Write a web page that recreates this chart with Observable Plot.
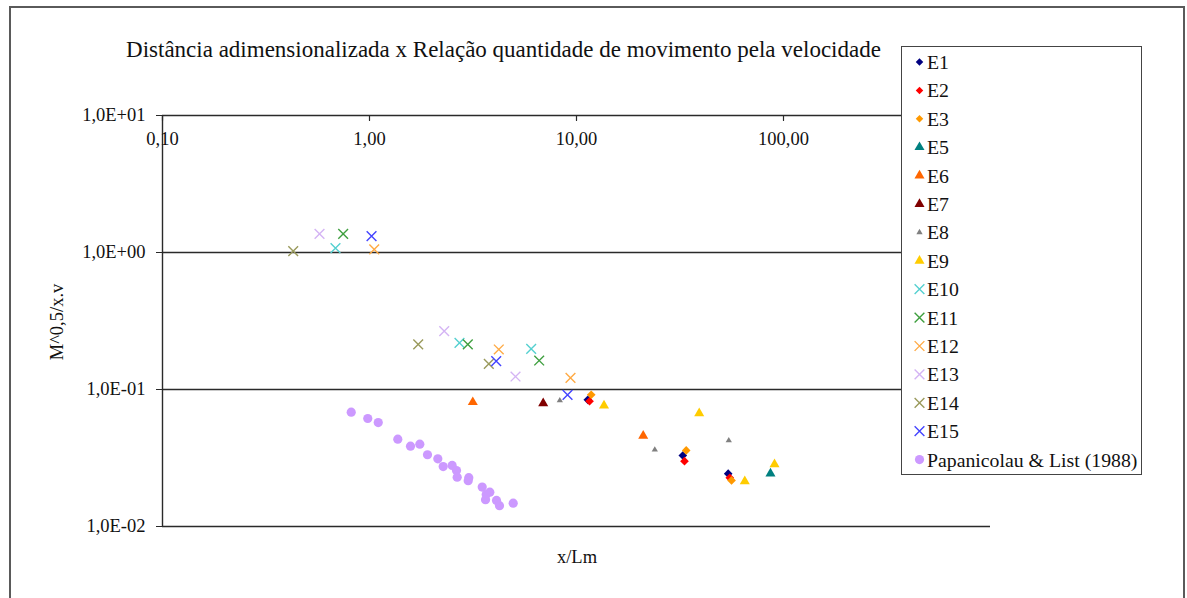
<!DOCTYPE html>
<html>
<head>
<meta charset="utf-8">
<script src="https://cdn.jsdelivr.net/npm/d3@7"></script>
<script src="https://cdn.jsdelivr.net/npm/@observablehq/plot@0.6"></script>
<style>
  body { margin: 0; background: #fff; font-family: "Liberation Serif", "Times New Roman", serif; }
  #wrap { position: relative; width: 1187px; height: 598px; overflow: hidden; background: #fff; }
  #frame { position: absolute; left: 9px; top: 6px; width: 1176px; height: 640px; border: 2px solid #5a5a5a; box-sizing: border-box; }
  #chart { position: absolute; left: 0; top: 0; }
  #title { position: absolute; left: 0; top: 37px; width: 1007px; text-align: center; font-size: 23px; color: #111; white-space: nowrap; }
  #xlabel { position: absolute; left: 477px; width: 200px; top: 547px; text-align: center; font-size: 18.5px; color: #111; }
  #ylabel { position: absolute; left: 57px; top: 322px; transform: translate(-50%, -50%) rotate(-90deg); font-size: 18.5px; color: #111; white-space: nowrap; }
  #legend { position: absolute; left: 901px; top: 46px; width: 241px; height: 429px; border: 1.5px solid #444; background: #fff; box-sizing: border-box; }
</style>
</head>
<body>
<div id="wrap">
  <div id="frame"></div>
  <div id="title">Distância adimensionalizada x Relação quantidade de movimento pela velocidade</div>
  <div id="xlabel">x/Lm</div>
  <div id="ylabel">M^0,5/x.v</div>
  <div id="legend"></div>
</div>
<script>
// ---- Data ----
const seriesNames = ["E1","E2","E3","E5","E6","E7","E8","E9","E10","E11","E12","E13","E14","E15","Papanicolau & List (1988)"];

const E1_x = [11.34, 32.62, 54.05];
const E1_y = [0.0841, 0.0330, 0.0243];
const E2_x = [11.56, 33.24, 55.0];
const E2_y = [0.0821, 0.0300, 0.0227];
const E3_x = [11.78, 33.88, 56.1];
const E3_y = [0.0916, 0.0359, 0.0217];
const E5_x = [86.5];
const E5_y = [0.0243];
const E6_x = [3.155, 21.0];
const E6_y = [0.0808, 0.0459];
const E7_x = [6.905];
const E7_y = [0.0794];
const E8_x = [8.305, 23.89, 54.4];
const E8_y = [0.0831, 0.0363, 0.0424];
const E9_x = [13.58, 39.16, 65.0, 90.5];
const E9_y = [0.0762, 0.0671, 0.0214, 0.0284];
const E10_x = [0.685, 2.721, 6.04];
const E10_y = [1.075, 0.2193, 0.1982];
const E11_x = [0.746, 2.985, 6.603];
const E11_y = [1.369, 0.2131, 0.1628];
const E12_x = [1.054, 4.213, 9.354];
const E12_y = [1.052, 0.1959, 0.1218];
const E13_x = [0.5735, 2.296, 5.074];
const E13_y = [1.369, 0.2664, 0.1244];
const E14_x = [0.428, 1.719, 3.770];
const E14_y = [1.022, 0.2131, 0.1540];
const E15_x = [1.023, 4.094, 9.05];
const E15_y = [1.315, 0.1609, 0.0915];
const PL_x = [0.816, 0.981, 1.102, 1.370, 1.578, 1.750, 1.906, 2.138, 2.270, 2.508, 2.632, 2.652, 3.018, 2.998, 3.503, 3.813, 3.663, 3.635, 4.107, 4.246, 4.946];
const PL_y = [0.0683, 0.0614, 0.0574, 0.0434, 0.0386, 0.0399, 0.0334, 0.0312, 0.0274, 0.0279, 0.0256, 0.0229, 0.0227, 0.0216, 0.0194, 0.0178, 0.0171, 0.0157, 0.0155, 0.0142, 0.0148];

const xTicks = [0.1, 1, 10, 100, 1000];
const yTicks = [0.01, 0.1, 1, 10];

// ---- Styles ----
const seriesX = [E1_x,E2_x,E3_x,E5_x,E6_x,E7_x,E8_x,E9_x,E10_x,E11_x,E12_x,E13_x,E14_x,E15_x,PL_x];
const seriesY = [E1_y,E2_y,E3_y,E5_y,E6_y,E7_y,E8_y,E9_y,E10_y,E11_y,E12_y,E13_y,E14_y,E15_y,PL_y];
const colors  = ["#000080","#ff0000","#ff9900","#008080","#ff6600","#800000","#808080","#ffcc00","#55d0d0","#3f9f3f","#ffaa44","#d4b4f4","#9a9a5c","#4444ff","#cc99ff"];
const symbols = ["diamond2","diamond2","diamond2","triangle2","triangle2","triangle2","triangle2","triangle2","times","times","times","times","times","times","circle"];
const radii   = [3.9,3.9,3.9,4.8,4.8,4.8,3.0,4.8,4.5,4.5,4.5,4.5,4.5,4.5,4.6];

const fmtX = d => d.toFixed(2).replace(".", ",");
const fmtY = d => { const e = Math.round(Math.log10(d)); return "1,0E" + (e < 0 ? "-" : "+") + String(Math.abs(e)).padStart(2, "0"); };

const dotMarks = seriesNames.map((name, i) => {
  const rows = seriesX[i].map((x, j) => ({x, y: seriesY[i][j]}));
  const isStroke = symbols[i] === "times";
  return Plot.dot(rows, {
    x: "x", y: "y", symbol: symbols[i], r: radii[i],
    ...(isStroke ? {stroke: colors[i], strokeWidth: 1.4, fill: "none"} : {fill: colors[i], stroke: "none"})
  });
});

const chart = Plot.plot({
  width: 1187, height: 598,
  marginLeft: 162, marginRight: 197, marginTop: 115, marginBottom: 72,
  x: {type: "log", domain: [0.1, 1000], axis: null},
  y: {type: "log", domain: [0.01, 10]},
  style: {fontFamily: "Liberation Serif, Times New Roman, serif", background: "transparent", color: "#111"},
  marks: [
    Plot.ruleY(yTicks, {stroke: "#2a2a2a", strokeWidth: 1.6}),
    Plot.ruleX([0.1], {stroke: "#2a2a2a", strokeWidth: 1.4}),
    Plot.axisY(yTicks, {anchor: "left", tickSize: 6, tickPadding: 11, tickFormat: fmtY, fontSize: 18.5, label: null, stroke: "#2a2a2a"}),
    Plot.vector(xTicks, {x: d => d, frameAnchor: "top", length: 5, rotate: 180, anchor: "start", r: 0, stroke: "#2a2a2a", strokeWidth: 1.2}),
    Plot.text(xTicks, {x: d => d, frameAnchor: "top", dy: 16, text: fmtX, fontSize: 18.5, fill: "#111"}),
    ...dotMarks
  ]
});
chart.id = "chart";
document.getElementById("wrap").insertBefore(chart, document.getElementById("title"));

// ---- Legend ----
const lg = d3.select("#legend").append("svg").attr("width", 238).attr("height", 426);
seriesNames.forEach((name, i) => {
  const cy = 15 + 28.4 * i;
  const g = lg.append("g").attr("transform", `translate(17.5,${cy})`);
  const sym = {diamond2: d3.symbolDiamond2, triangle2: d3.symbolTriangle2, times: d3.symbolTimes, circle: d3.symbolCircle}[symbols[i]];
  const rr = symbols[i] === "diamond2" ? 3.4 : radii[i];
  const p = g.append("path").attr("d", d3.symbol(sym, Math.PI * rr * rr)());
  if (symbols[i] === "times") p.attr("stroke", colors[i]).attr("stroke-width", 1.4).attr("fill", "none");
  else p.attr("fill", colors[i]);
  lg.append("text").attr("x", 25).attr("y", cy).attr("dy", "0.35em")
    .attr("font-size", 19.8).attr("font-family", "Liberation Serif, Times New Roman, serif").attr("fill", "#111").text(name);
});
</script>
</body>
</html>
